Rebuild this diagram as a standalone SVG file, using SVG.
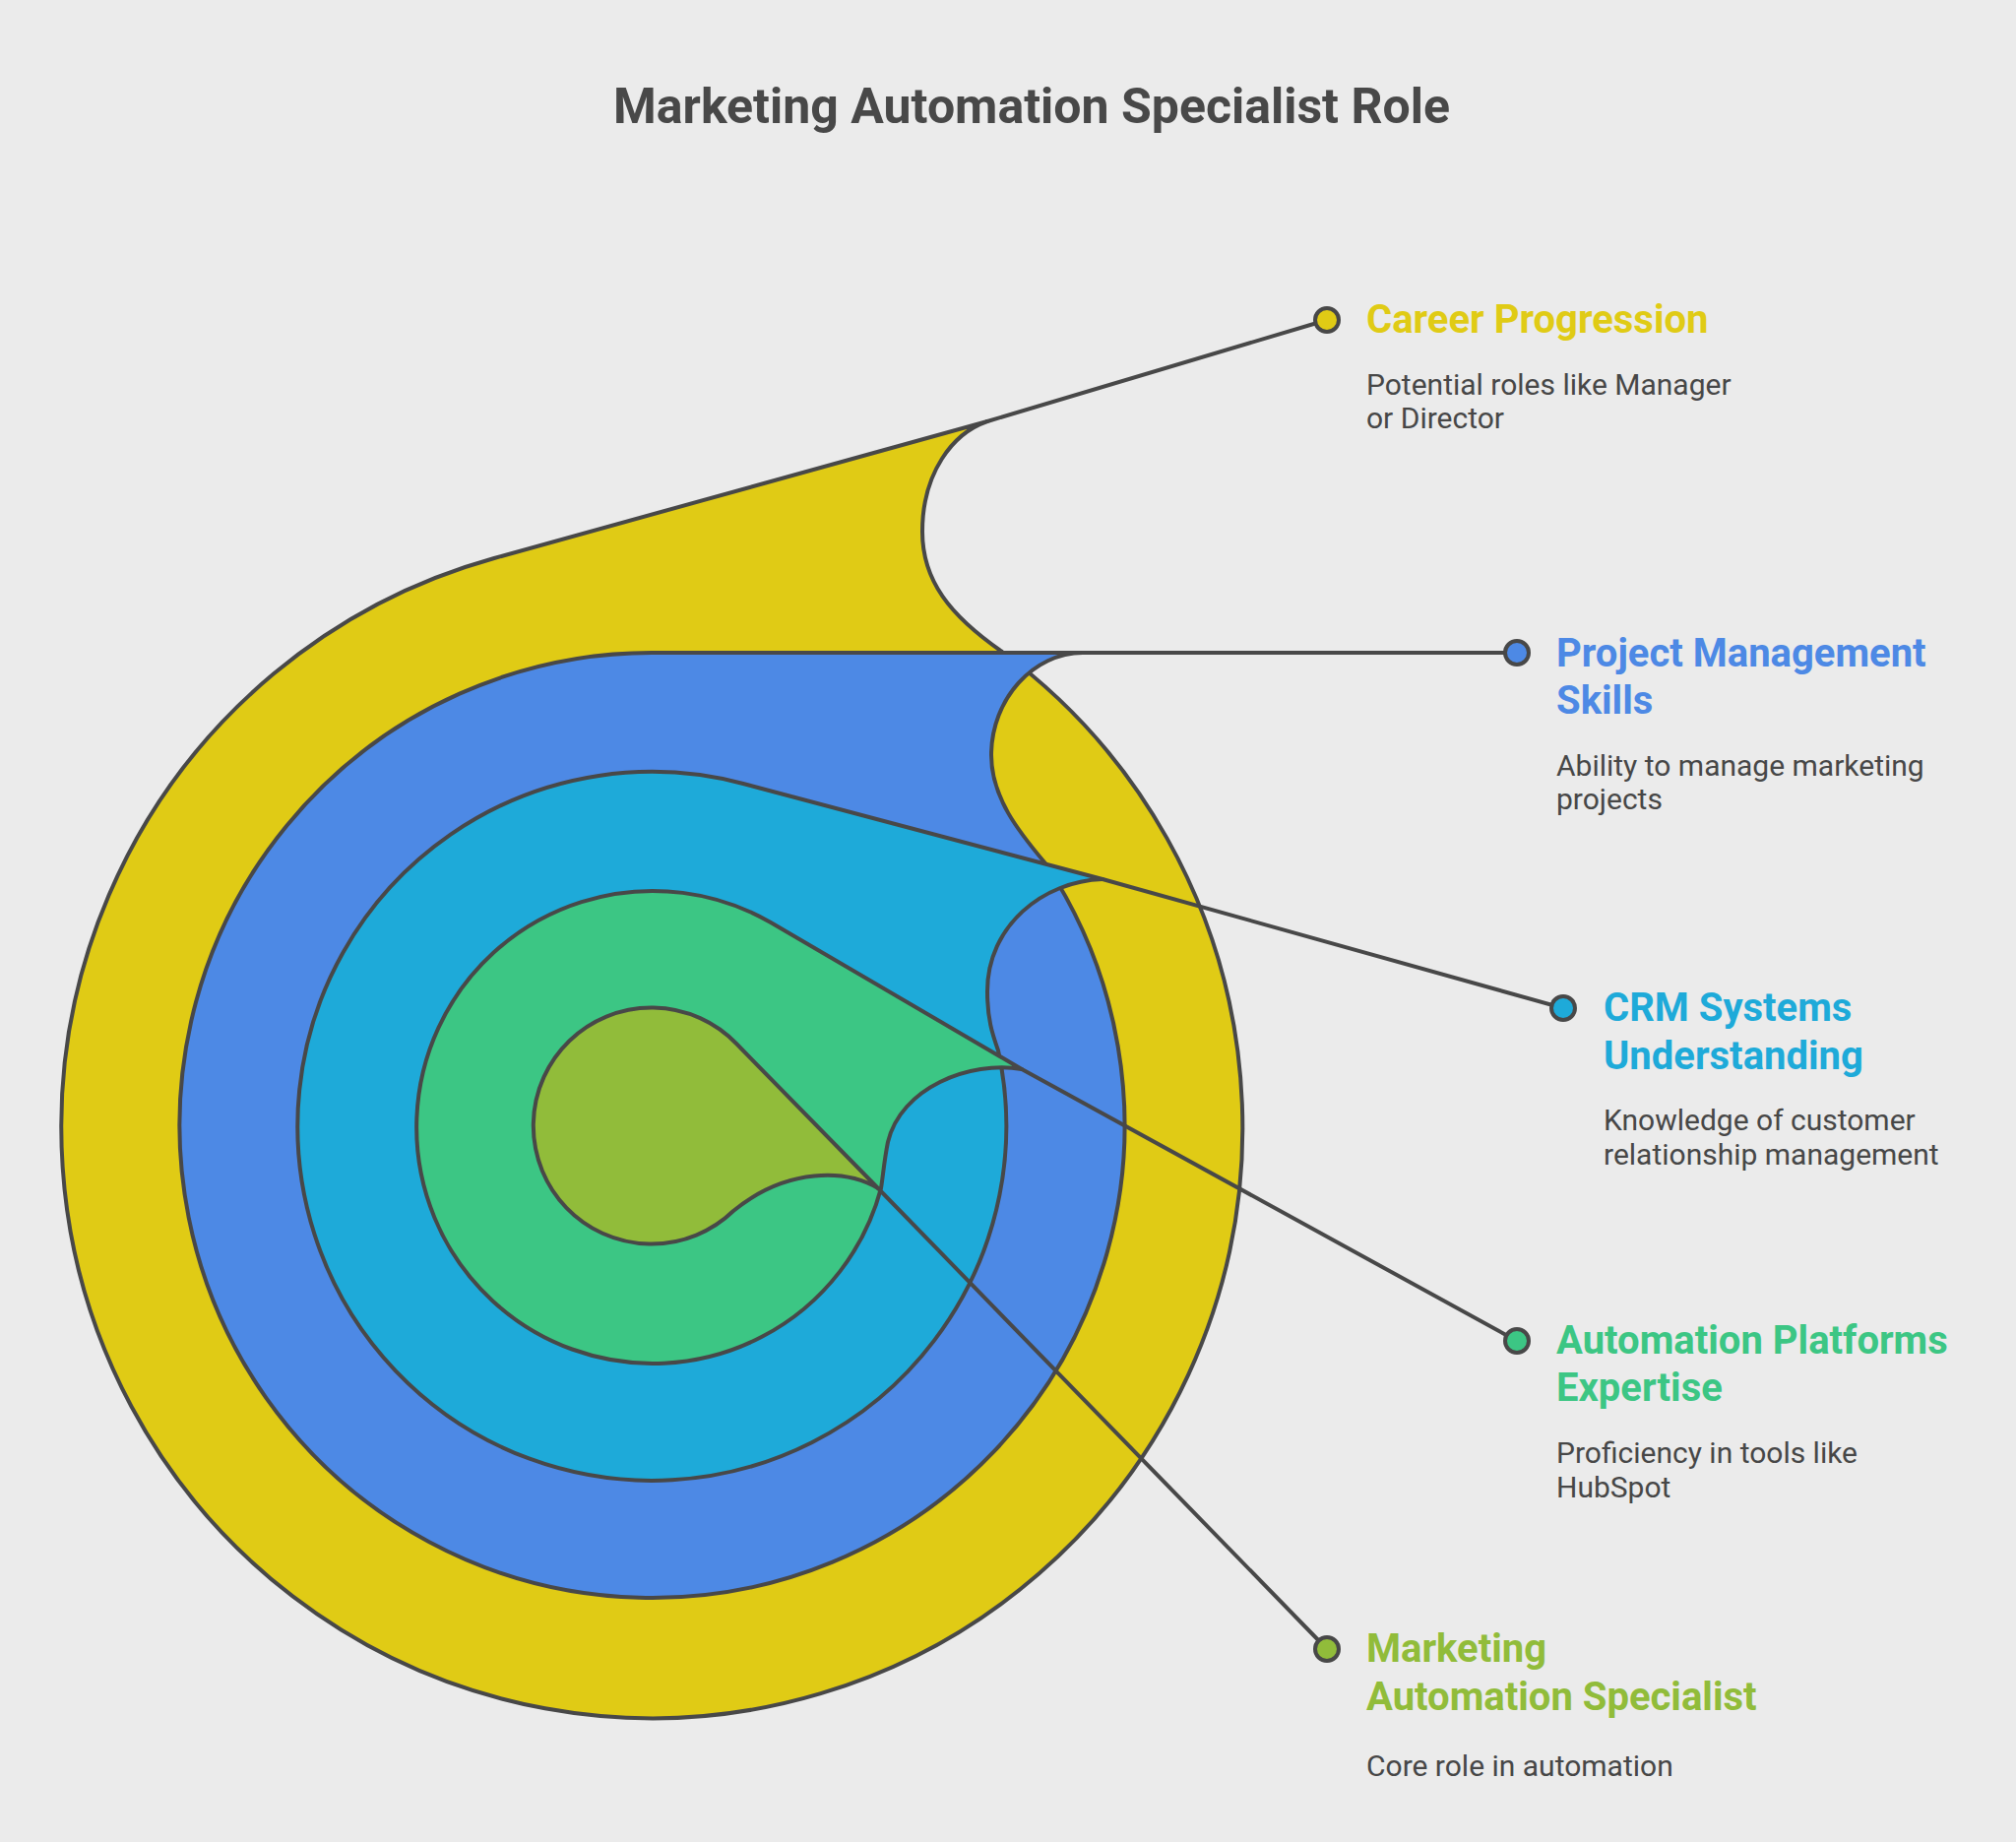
<svg xmlns="http://www.w3.org/2000/svg" width="2048" height="1871" viewBox="0 0 2048 1871">
<style>
.shape{stroke:#484848;stroke-width:4;stroke-linejoin:round}
.conn{stroke:#484848;stroke-width:4;fill:none;stroke-linecap:round}
.dot{stroke:#484848;stroke-width:4}
.head{font-family:Roboto,"Liberation Sans",sans-serif;font-weight:700;font-size:40px}
.desc{font-family:Roboto,"Liberation Sans",sans-serif;font-size:30px;fill:#474747}
.title{font-family:Roboto,"Liberation Sans",sans-serif;font-weight:700;font-size:50px;fill:#484848}
</style>
<rect width="2048" height="1871" fill="#EBEBEB"/>
<text class="title" x="1048" y="125" text-anchor="middle">Marketing Automation Specialist Role</text>

<g id="career-progression">
<path class="shape" fill="#E0CB15" d="M 502 567 L 1003 428 C 968 440 937 480 937 540 C 937 590 965 625 1018 662 A 600 600 0 1 1 502 567 Z"/>
</g>
<g id="project-management">
<path class="shape" fill="#4D89E5" d="M 662 663 L 1100 663 C 1050 663 1007 710 1007 767 C 1007 810 1035 845 1062 877 A 480 480 0 1 1 662 663 Z"/>
</g>
<g id="crm-systems">
<path class="shape" fill="#1EAAD9" d="M 755 796 L 1120 893 C 1060 895 1003 940 1003 1007 C 1003 1035 1008 1050 1014 1067 A 360 360 0 1 1 755 796 Z"/>
</g>
<g id="automation-platforms">
<path class="shape" fill="#3CC684" d="M 783 937 L 1038 1086 C 985 1077 915 1105 902 1160 C 898 1180 897 1195 895 1207 A 240 240 0 1 1 783 937 Z"/>
</g>
<g id="marketing-automation-specialist">
<path class="shape" fill="#91BC3A" d="M 748 1060 L 892 1207 C 860 1188 800 1185 745 1230 A 120 120 0 1 1 748 1060 Z"/>
</g>

<g id="connectors">
<line class="conn" x1="1003" y1="428" x2="1348" y2="325"/>
<line class="conn" x1="1100" y1="663" x2="1541" y2="663"/>
<line class="conn" x1="1120" y1="893" x2="1588" y2="1024"/>
<line class="conn" x1="1038" y1="1086" x2="1541" y2="1362"/>
<line class="conn" x1="892" y1="1207" x2="1348" y2="1675"/>
</g>

<g id="label-career">
<circle class="dot" cx="1348" cy="325" r="12" fill="#E0CB15"/>
<text class="head" fill="#E0CB15" x="1388" y="338">Career Progression</text>
<text class="desc" x="1388" y="401">Potential roles like Manager</text>
<text class="desc" x="1388" y="435">or Director</text>
</g>
<g id="label-project">
<circle class="dot" cx="1541" cy="663" r="12" fill="#4D89E5"/>
<text class="head" fill="#4D89E5" x="1581" y="677">Project Management</text>
<text class="head" fill="#4D89E5" x="1581" y="725">Skills</text>
<text class="desc" x="1581" y="788">Ability to manage marketing</text>
<text class="desc" x="1581" y="822">projects</text>
</g>
<g id="label-crm">
<circle class="dot" cx="1588" cy="1024" r="12" fill="#1EAAD9"/>
<text class="head" fill="#1EAAD9" x="1629" y="1037">CRM Systems</text>
<text class="head" fill="#1EAAD9" x="1629" y="1086">Understanding</text>
<text class="desc" x="1629" y="1148">Knowledge of customer</text>
<text class="desc" x="1629" y="1183">relationship management</text>
</g>
<g id="label-automation">
<circle class="dot" cx="1541" cy="1362" r="12" fill="#3CC684"/>
<text class="head" fill="#3CC684" x="1581" y="1375">Automation Platforms</text>
<text class="head" fill="#3CC684" x="1581" y="1423">Expertise</text>
<text class="desc" x="1581" y="1486">Proficiency in tools like</text>
<text class="desc" x="1581" y="1521">HubSpot</text>
</g>
<g id="label-specialist">
<circle class="dot" cx="1348" cy="1675" r="12" fill="#91BC3A"/>
<text class="head" fill="#91BC3A" x="1388" y="1688">Marketing</text>
<text class="head" fill="#91BC3A" x="1388" y="1737">Automation Specialist</text>
<text class="desc" x="1388" y="1804">Core role in automation</text>
</g>
</svg>
